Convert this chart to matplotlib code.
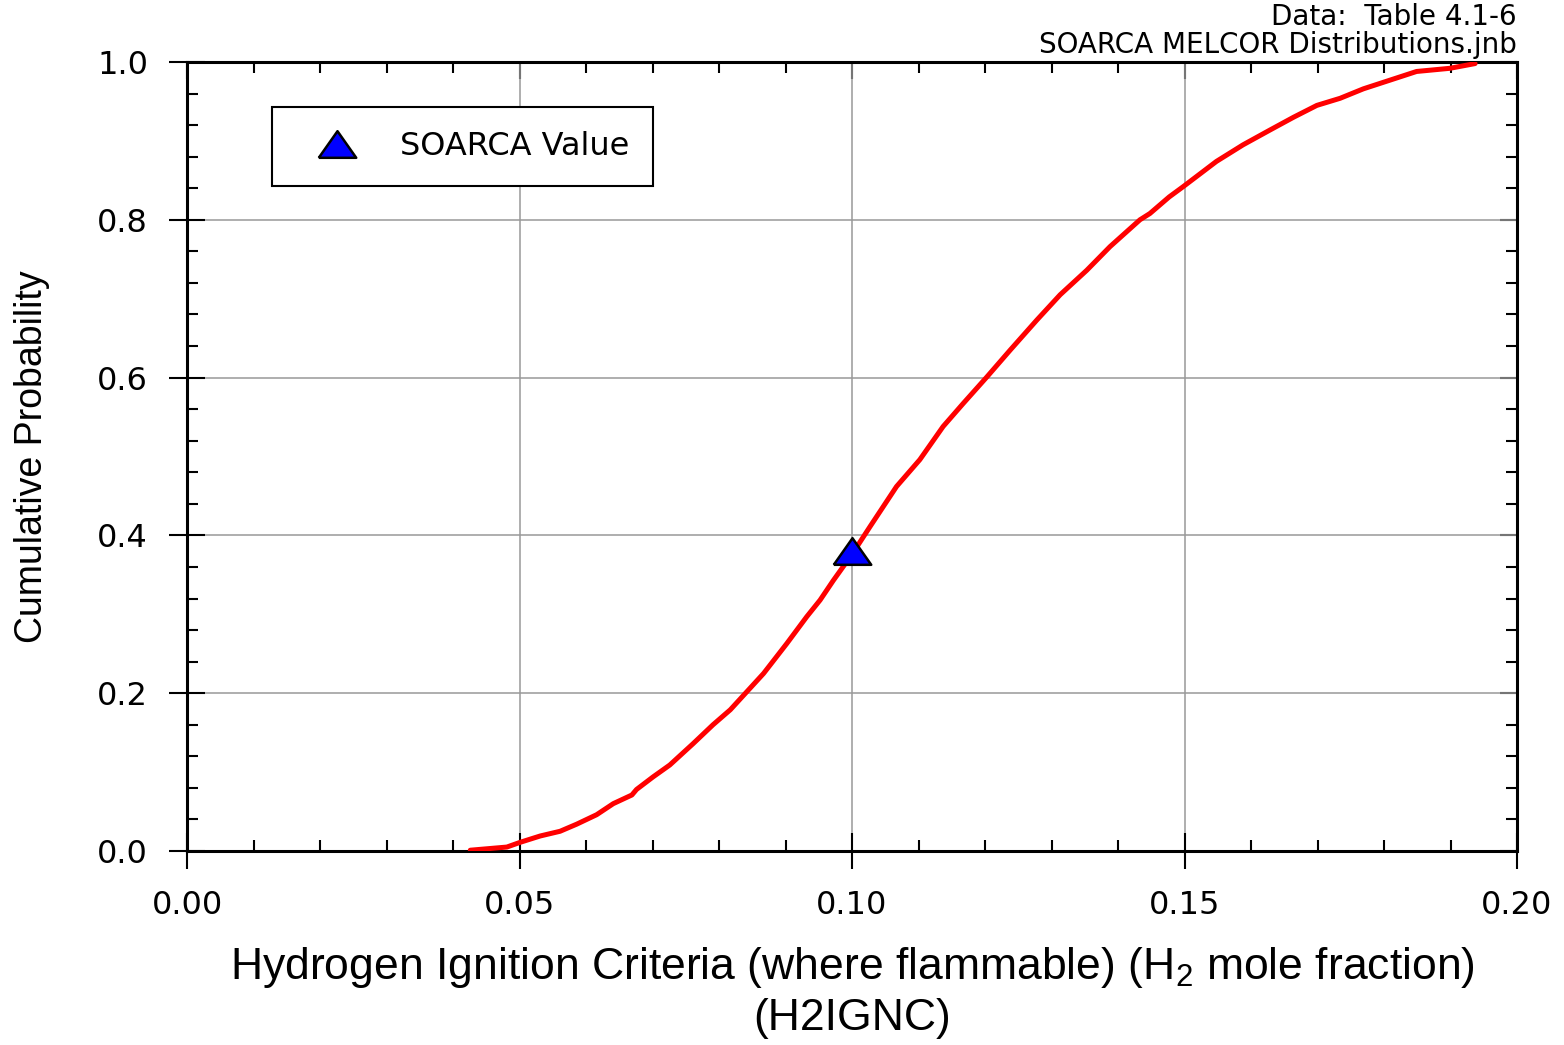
import matplotlib
matplotlib.use("Agg")
import matplotlib.pyplot as plt
from matplotlib.ticker import MultipleLocator

# CDF of H2 ignition criteria
h2_frac = [0.0426, 0.0481, 0.0501, 0.0531, 0.0561, 0.0586, 0.0616, 0.0641,
           0.0669, 0.0676, 0.0701, 0.0726, 0.0761, 0.0791, 0.0817, 0.0842,
           0.0867, 0.0902, 0.0932, 0.0952, 0.0972, 0.1000, 0.1027, 0.1067,
           0.1102, 0.1137, 0.1167, 0.1203, 0.1238, 0.1278, 0.1313, 0.1353,
           0.1388, 0.1433, 0.1448, 0.1477, 0.1498, 0.1548, 0.1588, 0.1629,
           0.1664, 0.1699, 0.1734, 0.1769, 0.1809, 0.1849, 0.1899, 0.1937]
cum_prob = [0.001, 0.005, 0.011, 0.019, 0.025, 0.034, 0.046, 0.060,
            0.071, 0.078, 0.094, 0.109, 0.136, 0.160, 0.179, 0.202,
            0.225, 0.263, 0.297, 0.318, 0.343, 0.376, 0.411, 0.462,
            0.496, 0.538, 0.567, 0.601, 0.635, 0.673, 0.705, 0.736,
            0.766, 0.800, 0.808, 0.829, 0.842, 0.874, 0.895, 0.914,
            0.930, 0.945, 0.954, 0.966, 0.977, 0.988, 0.992, 0.998]

soarca_x = [0.10]
soarca_y = [0.38]

xticks = [0.00, 0.05, 0.10, 0.15, 0.20]
yticks = [0.0, 0.2, 0.4, 0.6, 0.8, 1.0]

fig = plt.figure(figsize=(15.64, 10.45), dpi=100)
ax = fig.add_axes([187 / 1564, 1 - 851 / 1045, 1330 / 1564, 789 / 1045])

ax.plot(h2_frac, cum_prob, color="red", lw=3.6, solid_capstyle="round", zorder=3)

tri = [(-1, -0.71), (1, -0.71), (0, 0.71), (-1, -0.71)]
ax.plot(soarca_x, soarca_y, linestyle="none", marker=tri, markersize=27,
        markerfacecolor="#0000ff", markeredgecolor="black", markeredgewidth=1.8,
        zorder=4, label="SOARCA Value")

ax.set_xlim(0, 0.2)
ax.set_ylim(0, 1.0)
ax.set_xticks(xticks)
ax.set_yticks(yticks)
ax.set_xticklabels([f"{v:.2f}" for v in xticks])
ax.set_yticklabels([f"{v:.1f}" for v in yticks])
ax.xaxis.set_minor_locator(MultipleLocator(0.01))
ax.yaxis.set_minor_locator(MultipleLocator(0.04))

ax.grid(True, which="major", color="#999999", lw=1.1, zorder=1)
ax.tick_params(which="major", direction="inout", length=26, width=1.5,
               labelsize=23, pad=15)
ax.tick_params(which="minor", direction="in", length=8, width=1.5)
for lab in ax.get_xticklabels() + ax.get_yticklabels():
    lab.set_family("DejaVu Sans")
for sp in ax.spines.values():
    sp.set_linewidth(2.2)

# inward ticks along the top and right edges
top = ax.secondary_xaxis("top")
top.set_xticks(xticks)
top.xaxis.set_minor_locator(MultipleLocator(0.01))
top.tick_params(which="major", direction="in", length=12, width=1.5, labeltop=False)
top.tick_params(which="minor", direction="in", length=8, width=1.5)
right = ax.secondary_yaxis("right")
right.set_yticks(yticks)
right.yaxis.set_minor_locator(MultipleLocator(0.04))
right.tick_params(which="major", direction="in", length=12, width=1.5, labelright=False)
right.tick_params(which="minor", direction="in", length=8, width=1.5)

plt.rcParams["mathtext.default"] = "regular"
ax.set_xlabel("Hydrogen Ignition Criteria (where flammable) (H$_2$ mole fraction)\n(H2IGNC)",
              family=["Liberation Sans", "DejaVu Sans"], fontsize=32,
              linespacing=1.28, labelpad=17)
ax.set_ylabel("Cumulative Probability",
              family=["Liberation Sans Narrow", "Liberation Sans", "DejaVu Sans"],
              fontsize=27, labelpad=34)

leg = ax.legend(loc="upper left", bbox_to_anchor=(0.064, 0.943), fancybox=False,
                framealpha=1, edgecolor="black", borderpad=0.75,
                handletextpad=0.7, handlelength=2.55, borderaxespad=0,
                prop={"family": "DejaVu Sans", "size": 23})
leg.get_frame().set_linewidth(1.5)

fig.text(1517 / 1564, 1 - 17 / 1045, "Data:  Table 4.1-6", ha="right", va="center",
         fontsize=20, family="DejaVu Sans")
fig.text(1517 / 1564, 1 - 45 / 1045, "SOARCA MELCOR Distributions.jnb", ha="right",
         va="center", fontsize=20, family="DejaVu Sans")

fig.savefig("out.png", dpi=100)
